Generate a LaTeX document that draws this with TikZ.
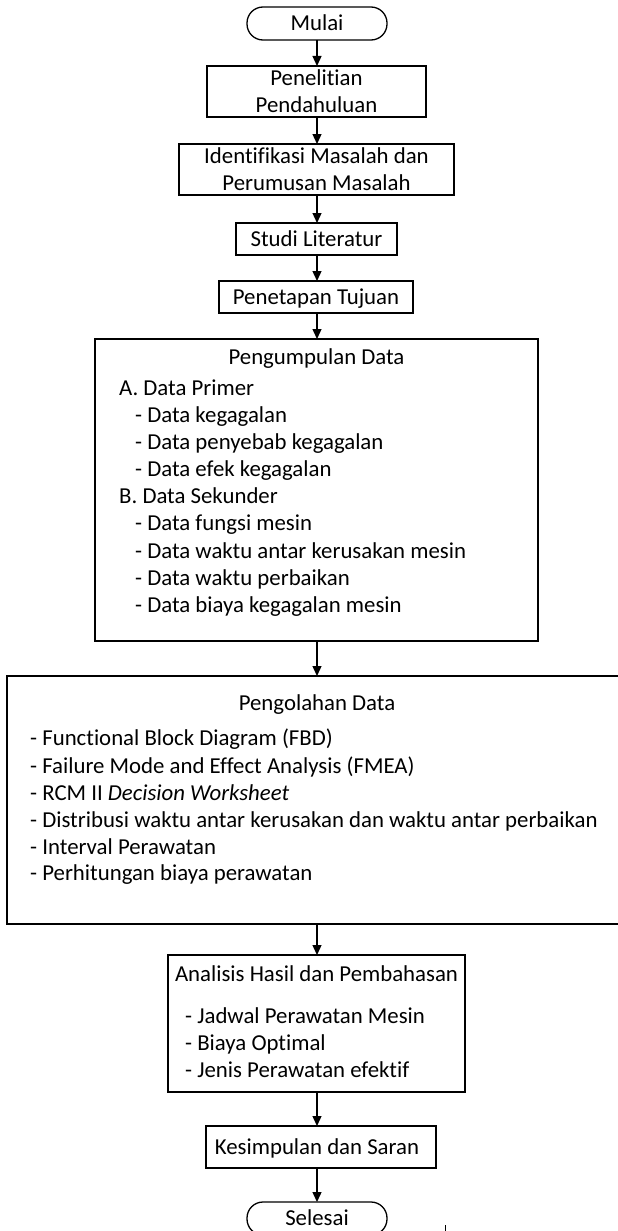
\documentclass[tikz,border=0pt]{standalone}
\usepackage{fontspec}
\setmainfont{Carlito}[Ligatures=NoCommon]
\usetikzlibrary{arrows.meta}
\begin{document}
\begin{tikzpicture}[x=1pt,y=-1pt,
 box/.style={draw, line width=1.3pt, rectangle, inner sep=0pt, outer sep=0pt},
 term/.style={box, rounded corners=16pt},
 one/.style={text height=18pt, text depth=4pt},
 arr/.style={line width=1.3pt, -{Triangle[length=10pt,width=9pt]}},
 txt/.style={anchor=base west, inner sep=0pt},
 ctr/.style={anchor=base, inner sep=0pt},
 font=\fontsize{22.8}{27}\selectfont]
\useasboundingbox (0,0) rectangle (618,1231);
\clip (0,0) rectangle (618,1231);
% boxes
\node[term, minimum width=140pt, minimum height=33pt, one] (mulai) at (317,23.5) {Mulai};
\node[box, minimum width=219pt, minimum height=51pt, align=center] (pp) at (316.5,91.5) {Penelitian\\Pendahuluan};
\node[box, minimum width=275pt, minimum height=51pt, align=center] (im) at (316.5,169.5) {Identifikasi Masalah dan\\Perumusan Masalah};
\node[box, minimum width=161pt, minimum height=32pt, one] (sl) at (316.5,239) {Studi Literatur};
\node[box, minimum width=194pt, minimum height=32pt, one] (pt) at (316,297) {Penetapan Tujuan};
\node[box, minimum width=443pt, minimum height=302pt] (pd) at (316.5,490) {};
\node[box, minimum width=620pt, minimum height=248pt] (po) at (317,800) {};
\node[box, minimum width=297pt, minimum height=137pt] (ah) at (316.5,1023.5) {};
\node[box, minimum width=230pt, minimum height=42pt] (ks) at (321,1147) {};
\node[ctr] (kst) at (317,1154) {Kesimpulan dan Saran};
\node[term, minimum width=140pt, minimum height=33pt, one] (sel) at (317,1218.5) {Selesai};
% Pengumpulan Data text
\node[ctr] (pdt) at (316.5,364) {Pengumpulan Data};
\node[txt] (pda) at (119,395) {A. Data Primer};
\node[txt] (pda1) at (135,422) {- Data kegagalan};
\node[txt] (pda2) at (135,449) {- Data penyebab kegagalan};
\node[txt] (pda3) at (135,476) {- Data efek kegagalan};
\node[txt] (pdb) at (119,503) {B. Data Sekunder};
\node[txt] (pdb1) at (135,530) {- Data fungsi mesin};
\node[txt] (pdb2) at (135,558) {- Data waktu antar kerusakan mesin};
\node[txt] (pdb3) at (135,585) {- Data waktu perbaikan};
\node[txt] (pdb4) at (135,612) {- Data biaya kegagalan mesin};
% Pengolahan Data text
\node[ctr] (pot) at (317,710) {Pengolahan Data};
\node[txt] (po1) at (30,745) {- Functional Block Diagram (FBD)};
\node[txt] (po2) at (30,773) {- Failure Mode and Effect Analysis (FMEA)};
\node[txt] (po3) at (30,800) {- RCM II \textit{Decision Worksheet}};
\node[txt] (po4) at (30,827) {- Distribusi waktu antar kerusakan dan waktu antar perbaikan};
\node[txt] (po5) at (30,854) {- Interval Perawatan};
\node[txt] (po6) at (30,880) {- Perhitungan biaya perawatan};
% Analisis text
\node[ctr] (aht) at (316.5,981) {Analisis Hasil dan Pembahasan};
\node[txt] (ah1) at (185,1023) {- Jadwal Perawatan Mesin};
\node[txt] (ah2) at (185,1050) {- Biaya Optimal};
\node[txt] (ah3) at (185,1077) {- Jenis Perawatan efektif};
% connectors
\draw[arr] (mulai) -- (mulai |- pp.north);
\draw[arr] (mulai |- pp.south) -- (mulai |- im.north);
\draw[arr] (mulai |- im.south) -- (mulai |- sl.north);
\draw[arr] (mulai |- sl.south) -- (mulai |- pt.north);
\draw[arr] (mulai |- pt.south) -- (mulai |- pd.north);
\draw[arr] (mulai |- pd.south) -- (mulai |- po.north);
\draw[arr] (mulai |- po.south) -- (mulai |- ah.north);
\draw[arr] (mulai |- ah.south) -- (mulai |- ks.north);
\draw[arr] (mulai |- ks.south) -- (sel);
% small stray mark
\coordinate (tk1) at (445,1225);
\coordinate (tk2) at (445,1231);
\draw[line width=1pt] (tk1) -- (tk2);
\end{tikzpicture}
\end{document}
